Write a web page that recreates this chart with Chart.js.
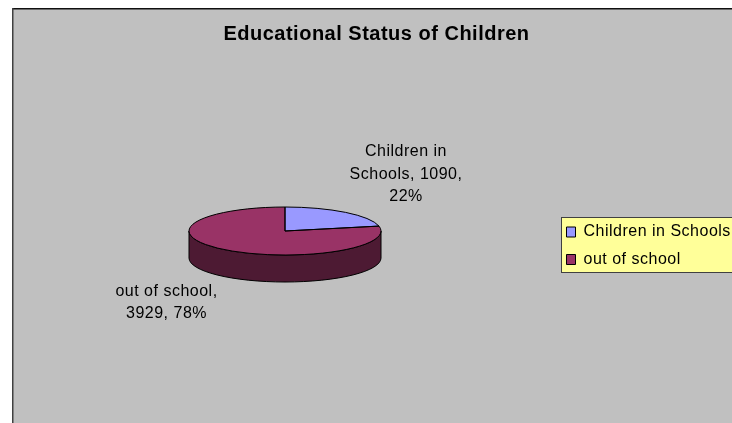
<!DOCTYPE html>
<html><head><meta charset="utf-8">
<style>html,body{margin:0;padding:0;background:#fff;overflow:hidden}
canvas{position:absolute;left:12px;top:8px}</style>
<script src="https://cdn.jsdelivr.net/npm/chart.js@4/dist/chart.umd.min.js"></script>
</head><body>
<canvas id="c" width="720" height="415"></canvas>
<script>
const categories = ["Children in Schools", "out of school"];
const values = [1090, 3929];
const percents = ["22%", "78%"];
const titleText = "Educational Status of Children";
const topColors = ["#9999ff", "#993366"];
const wallColors = ["#4d4d80", "#4d1a33"];

const SQUASH = 0.25, DEPTH = 27, FONT = 'Liberation Sans, Arial, sans-serif', SPACING = '0.5px';
const labelLines = [
  ["Children in", "Schools, " + values[0] + ",", percents[0]],
  [categories[1] + ",", values[1] + ", " + percents[1]]
];
const labelAnchors = [[121, -79], [-118.5, 60.5]];

const pseudo3d = {
  id: 'pseudo3d',
  beforeLayout(chart) { chart.ctx.letterSpacing = SPACING; },
  afterLayout(chart) {
    const t = chart.titleBlock; t.left = 9; t.right = chart.width;
    const l = chart.legend;
    const w = l.width, h = l.height;
    l.left = 543; l.right = l.left + w; l.top = 204.5; l.bottom = l.top + h;
  },
  beforeDraw(chart) {
    const c = chart.ctx;
    c.letterSpacing = SPACING;
    c.fillStyle = '#c0c0c0'; c.fillRect(0, 0, chart.width, chart.height);
    c.fillStyle = '#101010'; c.fillRect(0, 0, chart.width, 1.5);
    c.fillStyle = '#404040'; c.fillRect(0, 0, 1.5, chart.height);
    c.fillStyle = '#ffff99'; c.strokeStyle = '#404040'; c.lineWidth = 1;
    c.fillRect(549.5, 209.5, 190, 55); c.strokeRect(549.5, 209.5, 190, 55);
  },
  beforeDatasetDraw(chart) {
    const c = chart.ctx, arcs = chart.getDatasetMeta(0).data;
    const {x: cx, y: cy, outerRadius: r} = arcs[0];
    const ry = r * SQUASH;
    arcs.forEach((a, i) => {
      const norm = v => { const t = Math.PI * 2; return ((v % t) + t) % t; };
      let s = norm(a.startAngle), e = s + (a.endAngle - a.startAngle);
      for (const off of [0, Math.PI * 2]) {
        const from = Math.max(s, off), to = Math.min(e, off + Math.PI);
        if (to <= from) continue;
        c.beginPath();
        c.ellipse(cx, cy, r, ry, 0, from, to);
        c.ellipse(cx, cy + DEPTH, r, ry, 0, to, from, true);
        c.closePath();
        c.fillStyle = wallColors[i]; c.fill();
        c.strokeStyle = '#000'; c.lineWidth = 1; c.stroke();
      }
    });
    c.save();
    c.translate(cx, cy); c.scale(1, SQUASH); c.translate(-cx, -cy);
  },
  afterDatasetDraw(chart) {
    const c = chart.ctx, arcs = chart.getDatasetMeta(0).data;
    c.restore();
    const {x: cx, y: cy, outerRadius: r} = arcs[0];
    const ry = r * SQUASH;
    c.strokeStyle = '#000'; c.lineWidth = 1;
    arcs.forEach(a => {
      c.beginPath();
      c.moveTo(cx, cy);
      c.ellipse(cx, cy, r, ry, 0, a.startAngle, a.endAngle);
      c.closePath();
      c.stroke();
    });
    c.fillStyle = '#000'; c.font = '16px ' + FONT;
    c.textAlign = 'center'; c.textBaseline = 'middle';
    labelLines.forEach((lines, i) => {
      lines.forEach((t, j) => c.fillText(t, cx + labelAnchors[i][0], cy + labelAnchors[i][1] + j * 22.5));
    });
  }
};

new Chart(document.getElementById('c'), {
  type: 'pie',
  data: { labels: categories, datasets: [{ data: values, backgroundColor: topColors, borderWidth: 0 }] },
  options: {
    responsive: false, animation: false, devicePixelRatio: 1,
    layout: { padding: { left: 177, right: 351, top: 0, bottom: 96 } },
    plugins: {
      tooltip: { enabled: false },
      title: { display: true, text: titleText, color: '#000',
        font: { family: FONT, size: 20, weight: 'bold' },
        padding: { top: 14.6, bottom: 88.4 } },
      legend: { position: 'chartArea', align: 'start',
        labels: { color: '#000', font: { family: FONT, size: 16 }, boxWidth: 9, boxHeight: 10, padding: 11.5,
          generateLabels(chart) {
            return Chart.overrides.pie.plugins.legend.labels.generateLabels(chart).map(it => ({...it, strokeStyle: '#000', lineWidth: 1}));
          } } }
    }
  },
  plugins: [pseudo3d]
});
</script>
</body></html>
